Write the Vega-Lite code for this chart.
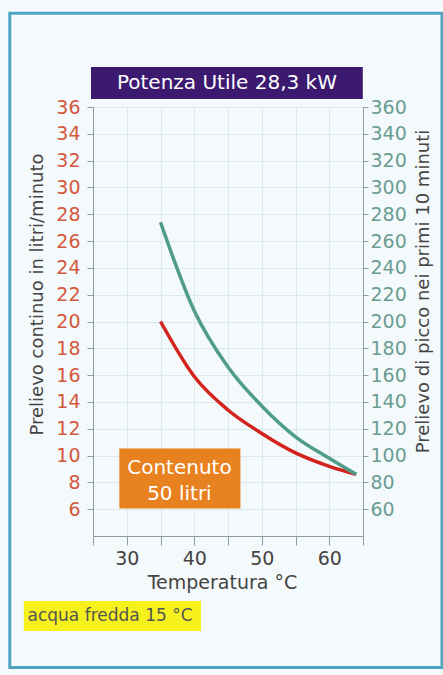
{
  "$schema": "https://vega.github.io/schema/vega-lite/v6.json",
  "width": 270,
  "height": 429,
  "autosize": {"type": "none"},
  "padding": {"left": 93, "top": 107, "right": 80, "bottom": 139},
  "background": "#f4f9fb",
  "config": {
    "view": {"stroke": null},
    "font": "DejaVu Sans",
    "axis": {"labelFont": "DejaVu Sans", "titleFont": "DejaVu Sans", "titleFontWeight": "normal", "domainColor": "#8e9ca2", "tickColor": "#8e9ca2", "gridColor": "#dbe8ec"}
  },
  "datasets": {
    "curve": [
      {"T": 35, "litri_min": 20.0, "picco_10min": 274},
      {"T": 40, "litri_min": 15.9, "picco_10min": 208},
      {"T": 45, "litri_min": 13.4, "picco_10min": 166},
      {"T": 50, "litri_min": 11.65, "picco_10min": 137},
      {"T": 55, "litri_min": 10.2, "picco_10min": 114},
      {"T": 60, "litri_min": 9.2, "picco_10min": 98},
      {"T": 64, "litri_min": 8.6, "picco_10min": 86}
    ],
    "boxes": [
      {"name": "frame", "x1": 12.67, "x2": 76.7, "y1": 43.0, "y2": -5.8},
      {"name": "title", "x1": 24.7, "x2": 64.97, "y1": 38.99, "y2": 36.6},
      {"name": "contenuto", "x1": 28.9, "x2": 46.84, "y1": 10.53, "y2": 6.05},
      {"name": "acqua", "x1": 14.75, "x2": 41.0, "y1": -0.84, "y2": -3.08}
    ],
    "labels": [
      {"name": "title", "x": 44.84, "y": 37.79, "text": "Potenza Utile 28,3 kW"},
      {"name": "contenuto", "x": 37.8, "y": 9.06, "text": "Contenuto"},
      {"name": "contenuto", "x": 37.8, "y": 7.12, "text": "50 litri"}
    ]
  },
  "resolve": {"scale": {"y": "independent"}, "axis": {"y": "independent"}},
  "layer": [
    {
      "layer": [
        {
          "data": {"name": "curve"},
          "mark": {"type": "line", "color": "#d2231c", "strokeWidth": 3.5, "interpolate": "monotone", "clip": false},
          "encoding": {
            "x": {
              "field": "T", "type": "quantitative",
              "scale": {"domain": [25, 65], "nice": false, "zero": false},
              "axis": {"values": [25, 30, 35, 40, 45, 50, 55, 60, 65], "labelExpr": "datum.value % 10 == 0 && datum.value >= 30 && datum.value <= 60 ? datum.label : ''", "labelOverlap": false, "labelFlush": false, "grid": true, "tickSize": 9, "labelPadding": 4, "labelFontSize": 19, "labelColor": "#444", "title": "Temperatura °C", "titleFontSize": 19, "titleColor": "#444", "titleX": 129, "titleY": 52, "titleBaseline": "alphabetic", "titleAlign": "center"}
            },
            "y": {
              "field": "litri_min", "type": "quantitative",
              "scale": {"domain": [4, 36], "nice": false, "zero": false},
              "axis": {"orient": "left", "values": [6, 8, 10, 12, 14, 16, 18, 20, 22, 24, 26, 28, 30, 32, 34, 36], "labelOverlap": false, "labelFlush": false, "grid": true, "tickSize": 6, "labelPadding": 7, "labelFontSize": 19, "labelColor": "#d3583c", "title": "Prelievo continuo in litri/minuto", "titleFontSize": 18, "titleColor": "#444", "titleAngle": -90, "titleX": -56, "titleY": 187, "titleAlign": "center", "titleBaseline": "middle"}
            }
          }
        },
        {
          "data": {"name": "boxes"},
          "transform": [{"filter": "datum.name == 'frame'"}],
          "mark": {"type": "rect", "clip": false, "fillOpacity": 0, "stroke": "#4fa4c2", "strokeWidth": 3},
          "encoding": {
            "x": {
              "field": "x1", "type": "quantitative",
              "axis": {"values": [25, 30, 35, 40, 45, 50, 55, 60, 65], "labelExpr": "datum.value % 10 == 0 && datum.value >= 30 && datum.value <= 60 ? datum.label : ''", "labelOverlap": false, "labelFlush": false, "grid": true, "tickSize": 9, "labelPadding": 4, "labelFontSize": 19, "labelColor": "#444", "title": "Temperatura °C", "titleFontSize": 19, "titleColor": "#444", "titleX": 129, "titleY": 52, "titleBaseline": "alphabetic", "titleAlign": "center"}
            },
            "x2": {"field": "x2"},
            "y": {
              "field": "y1", "type": "quantitative",
              "axis": {"orient": "left", "values": [6, 8, 10, 12, 14, 16, 18, 20, 22, 24, 26, 28, 30, 32, 34, 36], "labelOverlap": false, "labelFlush": false, "grid": true, "tickSize": 6, "labelPadding": 7, "labelFontSize": 19, "labelColor": "#d3583c", "title": "Prelievo continuo in litri/minuto", "titleFontSize": 18, "titleColor": "#444", "titleAngle": -90, "titleX": -56, "titleY": 187, "titleAlign": "center", "titleBaseline": "middle"}
            },
            "y2": {"field": "y2"}
          }
        },
        {
          "data": {"name": "boxes"},
          "transform": [{"filter": "datum.name != 'frame'"}],
          "mark": {"type": "rect", "clip": false},
          "encoding": {
            "x": {
              "field": "x1", "type": "quantitative",
              "axis": {"values": [25, 30, 35, 40, 45, 50, 55, 60, 65], "labelExpr": "datum.value % 10 == 0 && datum.value >= 30 && datum.value <= 60 ? datum.label : ''", "labelOverlap": false, "labelFlush": false, "grid": true, "tickSize": 9, "labelPadding": 4, "labelFontSize": 19, "labelColor": "#444", "title": "Temperatura °C", "titleFontSize": 19, "titleColor": "#444", "titleX": 129, "titleY": 52, "titleBaseline": "alphabetic", "titleAlign": "center"}
            },
            "x2": {"field": "x2"},
            "y": {
              "field": "y1", "type": "quantitative",
              "axis": {"orient": "left", "values": [6, 8, 10, 12, 14, 16, 18, 20, 22, 24, 26, 28, 30, 32, 34, 36], "labelOverlap": false, "labelFlush": false, "grid": true, "tickSize": 6, "labelPadding": 7, "labelFontSize": 19, "labelColor": "#d3583c", "title": "Prelievo continuo in litri/minuto", "titleFontSize": 18, "titleColor": "#444", "titleAngle": -90, "titleX": -56, "titleY": 187, "titleAlign": "center", "titleBaseline": "middle"}
            },
            "y2": {"field": "y2"},
            "color": {
              "field": "name", "type": "nominal", "legend": null,
              "scale": {"domain": ["title", "contenuto", "acqua"], "range": ["#3b1a6f", "#e8811f", "#f6f01c"]}
            }
          }
        },
        {
          "data": {"name": "labels"},
          "mark": {"type": "text", "clip": false, "color": "#ffffff", "fontSize": 20, "align": "center", "baseline": "middle"},
          "encoding": {
            "x": {
              "field": "x", "type": "quantitative",
              "axis": {"values": [25, 30, 35, 40, 45, 50, 55, 60, 65], "labelExpr": "datum.value % 10 == 0 && datum.value >= 30 && datum.value <= 60 ? datum.label : ''", "labelOverlap": false, "labelFlush": false, "grid": true, "tickSize": 9, "labelPadding": 4, "labelFontSize": 19, "labelColor": "#444", "title": "Temperatura °C", "titleFontSize": 19, "titleColor": "#444", "titleX": 129, "titleY": 52, "titleBaseline": "alphabetic", "titleAlign": "center"}
            },
            "y": {
              "field": "y", "type": "quantitative",
              "axis": {"orient": "left", "values": [6, 8, 10, 12, 14, 16, 18, 20, 22, 24, 26, 28, 30, 32, 34, 36], "labelOverlap": false, "labelFlush": false, "grid": true, "tickSize": 6, "labelPadding": 7, "labelFontSize": 19, "labelColor": "#d3583c", "title": "Prelievo continuo in litri/minuto", "titleFontSize": 18, "titleColor": "#444", "titleAngle": -90, "titleX": -56, "titleY": 187, "titleAlign": "center", "titleBaseline": "middle"}
            },
            "text": {"field": "text"}
          }
        },
        {
          "data": {"values": [{"x": 15.3, "y": -1.96, "text": "acqua fredda 15 °C"}]},
          "mark": {"type": "text", "clip": false, "color": "#555", "fontSize": 17, "align": "left", "baseline": "middle"},
          "encoding": {
            "x": {
              "field": "x", "type": "quantitative",
              "axis": {"values": [25, 30, 35, 40, 45, 50, 55, 60, 65], "labelExpr": "datum.value % 10 == 0 && datum.value >= 30 && datum.value <= 60 ? datum.label : ''", "labelOverlap": false, "labelFlush": false, "grid": true, "tickSize": 9, "labelPadding": 4, "labelFontSize": 19, "labelColor": "#444", "title": "Temperatura °C", "titleFontSize": 19, "titleColor": "#444", "titleX": 129, "titleY": 52, "titleBaseline": "alphabetic", "titleAlign": "center"}
            },
            "y": {
              "field": "y", "type": "quantitative",
              "axis": {"orient": "left", "values": [6, 8, 10, 12, 14, 16, 18, 20, 22, 24, 26, 28, 30, 32, 34, 36], "labelOverlap": false, "labelFlush": false, "grid": true, "tickSize": 6, "labelPadding": 7, "labelFontSize": 19, "labelColor": "#d3583c", "title": "Prelievo continuo in litri/minuto", "titleFontSize": 18, "titleColor": "#444", "titleAngle": -90, "titleX": -56, "titleY": 187, "titleAlign": "center", "titleBaseline": "middle"}
            },
            "text": {"field": "text"}
          }
        }
      ]
    },
    {
      "data": {"name": "curve"},
      "mark": {"type": "line", "color": "#4f9c89", "strokeWidth": 3.5, "interpolate": "monotone", "clip": false},
      "encoding": {
        "x": {
          "field": "T", "type": "quantitative",
          "axis": {"values": [25, 30, 35, 40, 45, 50, 55, 60, 65], "labelExpr": "datum.value % 10 == 0 && datum.value >= 30 && datum.value <= 60 ? datum.label : ''", "labelOverlap": false, "labelFlush": false, "grid": true, "tickSize": 9, "labelPadding": 4, "labelFontSize": 19, "labelColor": "#444", "title": "Temperatura °C", "titleFontSize": 19, "titleColor": "#444", "titleX": 129, "titleY": 52, "titleBaseline": "alphabetic", "titleAlign": "center"}
        },
        "y": {
          "field": "picco_10min", "type": "quantitative",
          "scale": {"domain": [40, 360], "nice": false, "zero": false},
          "axis": {"orient": "right", "values": [60, 80, 100, 120, 140, 160, 180, 200, 220, 240, 260, 280, 300, 320, 340, 360], "labelOverlap": false, "labelFlush": false, "grid": false, "tickSize": 5, "labelPadding": 2, "labelFontSize": 19, "labelColor": "#6a9d92", "title": "Prelievo di picco nei primi 10 minuti", "titleFontSize": 18, "titleColor": "#444", "titleAngle": -90, "titleX": 60, "titleY": 184, "titleAlign": "center", "titleBaseline": "middle"}
        }
      }
    }
  ]
}
